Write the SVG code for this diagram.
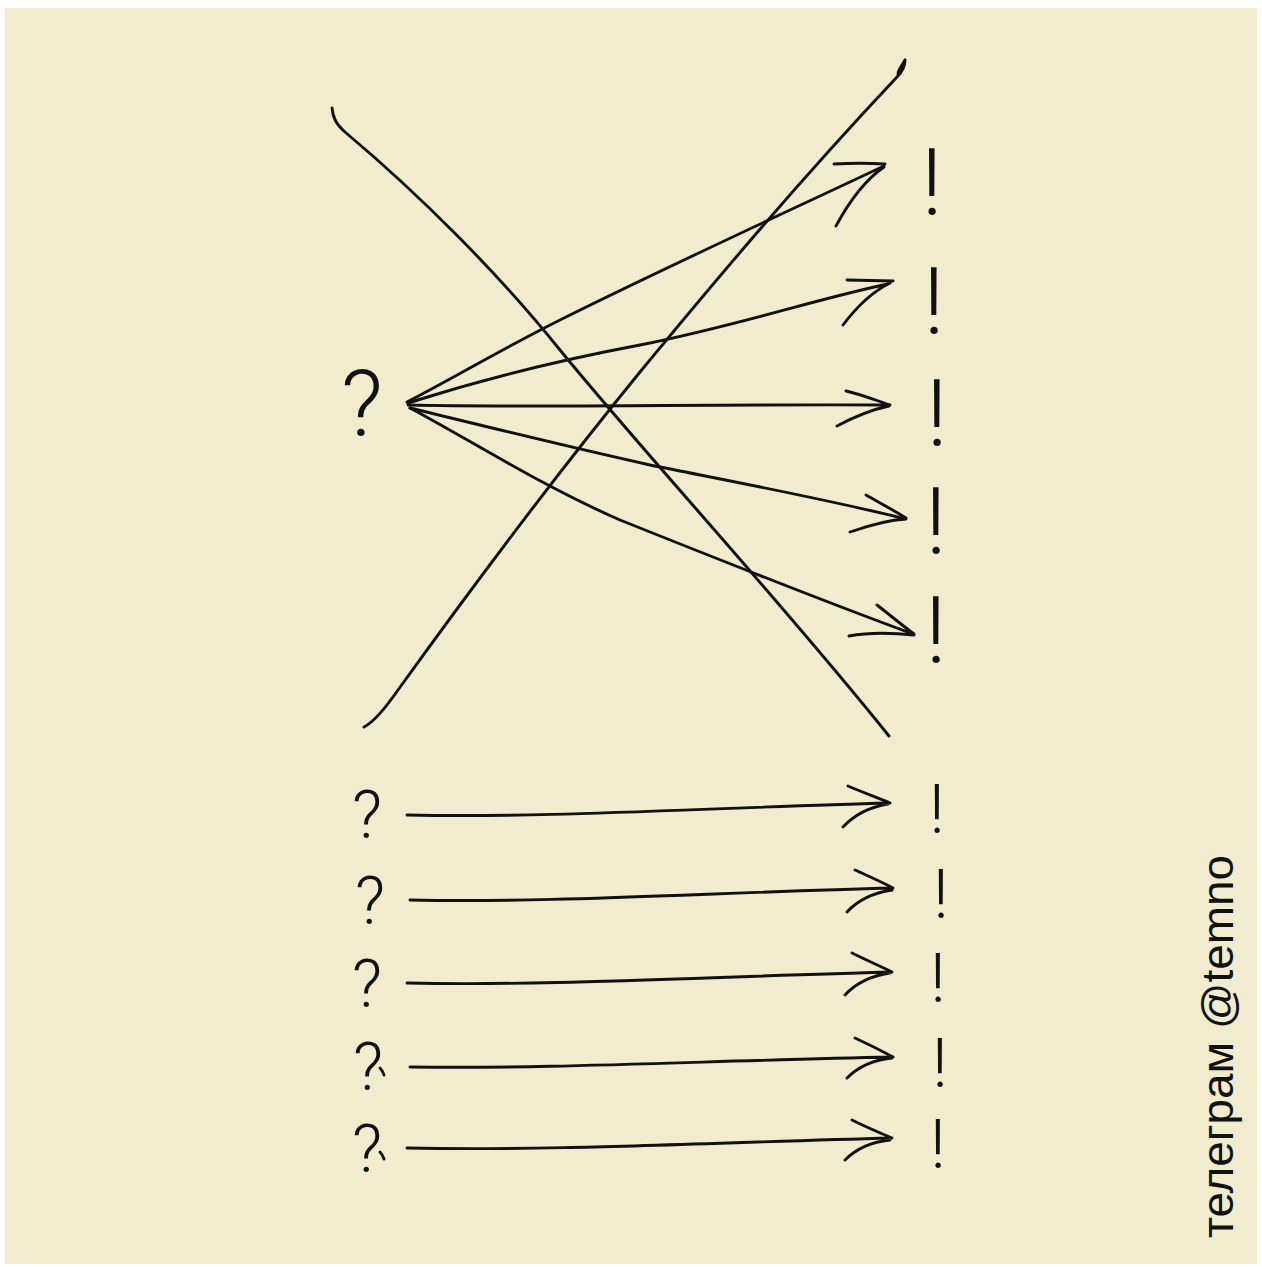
<svg xmlns="http://www.w3.org/2000/svg" width="1262" height="1267" viewBox="0 0 1262 1267">
<style>
.ln{fill:none;stroke:#111;stroke-width:2.9;stroke-linecap:round;stroke-linejoin:round}
.mk{font-family:Roboto,"Liberation Sans",sans-serif;font-weight:300;fill:#111;text-anchor:middle}
.q{font-size:92px}
.qs{font-size:66px}
.ex{font-size:92px}
.es{font-size:68px}
.sig{font-family:"Liberation Sans","DejaVu Sans",sans-serif;font-size:44px;fill:#111}
</style>
<rect x="0" y="0" width="1262" height="1267" fill="#ffffff"/>
<rect x="5" y="8" width="1252" height="1256" fill="#f1ecce"/>
<g id="connectors">
<path class="ln" d="M332,108 C333,118 336,124 345,132 C420,195 500,275 560,350 C650,460 780,600 889,736"/>
<path class="ln" d="M364,727 C372,723 382,713 398,690 C470,590 560,470 640,372 C720,275 800,180 897,77 C902,72 905,66 905,60 M905,60 C902,66 898,70 898,74"/>
<path class="ln" d="M407,402 C450,380 500,350 560,320 C660,270 780,215 884,166 M834,164 C850,163 870,163 885,164 M836,226 C850,200 865,180 884,167"/>
<path class="ln" d="M408,403 C480,380 560,360 640,345 C740,325 820,298 888,284 M847,280 L893,281 M843,325 C858,305 872,292 890,283"/>
<path class="ln" d="M408,405 C550,408 700,404 888,405 M846,391 C860,394 875,400 890,405 M837,426 C852,418 870,410 889,406"/>
<path class="ln" d="M410,408 C480,425 560,445 650,465 C750,485 830,500 906,519 M866,495 C880,503 895,511 906,518 M850,532 C870,525 890,520 906,519"/>
<path class="ln" d="M410,408 C470,440 540,485 620,520 C720,560 820,600 913,634 M877,605 C890,615 903,626 914,634 M849,636 C870,632 895,633 914,635"/>
<path class="ln" d="M407,815 C550,818 700,808 890,803 M848,786 C862,792 878,798 890,803 M843,827 C855,814 870,807 888,804"/>
<path class="ln" d="M410,900 C550,903 700,893 893,888 M855,870 C868,876 882,882 893,888 M847,912 C858,900 872,893 892,890"/>
<path class="ln" d="M407,983 C550,986 700,977 892,972 M852,953 C866,960 880,966 892,972 M845,995 C856,983 870,976 890,973"/>
<path class="ln" d="M410,1067 C550,1069 700,1061 893,1057 M855,1038 C868,1044 882,1051 893,1057 M847,1078 C858,1067 872,1060 892,1058"/>
<path class="ln" d="M407,1148 C550,1151 700,1143 892,1138 M852,1120 C866,1127 880,1133 892,1138 M845,1160 C856,1149 870,1142 890,1140"/>
</g>
<g id="q-main"><text class="mk q" x="362" y="436">?</text></g>
<g id="e1"><text class="mk ex" x="932" y="215">!</text></g>
<g id="e2"><text class="mk ex" x="934" y="334">!</text></g>
<g id="e3"><text class="mk ex" x="937" y="446">!</text></g>
<g id="e4"><text class="mk ex" x="936" y="554">!</text></g>
<g id="e5"><text class="mk ex" x="936" y="663">!</text></g>
<g id="q1"><text class="mk qs" x="367" y="838">?</text></g>
<g id="q2"><text class="mk qs" x="370" y="924">?</text></g>
<g id="q3"><text class="mk qs" x="367" y="1007">?</text></g>
<g id="q4"><text class="mk qs" x="368" y="1090">?</text><path class="ln" d="M380,1068 C382,1070 383,1072 384,1075"/></g>
<g id="q5"><text class="mk qs" x="367" y="1172">?</text><path class="ln" d="M380,1152 C382,1154 383,1156 384,1159"/></g>
<g id="s1"><text class="mk es" x="937" y="833">!</text></g>
<g id="s2"><text class="mk es" x="941" y="918">!</text></g>
<g id="s3"><text class="mk es" x="938" y="1002">!</text></g>
<g id="s4"><text class="mk es" x="940" y="1087">!</text></g>
<g id="s5"><text class="mk es" x="938" y="1168">!</text></g>
<g id="signature"><text class="sig" transform="translate(1233,1238) rotate(-90)" textLength="383" lengthAdjust="spacingAndGlyphs">телеграм @temno</text></g>
</svg>
